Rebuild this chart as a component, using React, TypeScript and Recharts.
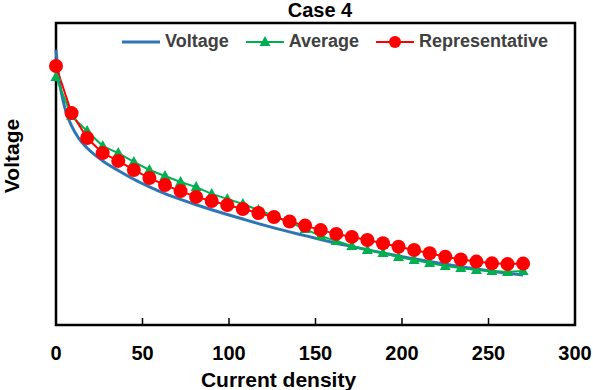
import { LineChart, Line, XAxis, YAxis, Legend, ReferenceArea } from "recharts";

// sampled operating points (current density) for the two marker series
const currentDensity = [
  0, 9, 18, 27, 36, 45, 54, 63, 72, 81, 90, 99, 108, 117, 126, 135,
  144, 153, 162, 171, 180, 189, 198, 207, 216, 225, 234, 243, 252, 261, 270,
];
const averageVoltage = [
  0.985, 0.83, 0.771, 0.711, 0.683, 0.648, 0.616, 0.592, 0.568, 0.548, 0.521,
  0.501, 0.481, 0.457, 0.433, 0.409, 0.381, 0.354, 0.334, 0.314, 0.298, 0.286,
  0.27, 0.258, 0.246, 0.234, 0.226, 0.219, 0.215, 0.211, 0.215,
];
const representativeVoltage = [
  1.029, 0.842, 0.743, 0.683, 0.652, 0.616, 0.584, 0.556, 0.532, 0.509, 0.493,
  0.477, 0.461, 0.445, 0.429, 0.411, 0.395, 0.377, 0.362, 0.35, 0.338, 0.325,
  0.311, 0.298, 0.285, 0.271, 0.26, 0.252, 0.245, 0.242, 0.244,
];

// measured polarization curve, denser near open circuit
const voltageCurrent = [
  0, 1, 2, 4, 6, 9, 13, 18, 27, 36, 45, 54, 63, 72, 81, 90, 99, 108, 117, 126,
  135, 144, 153, 162, 171, 180, 189, 198, 207, 216, 225, 234, 243, 252, 261, 270,
];
const voltageCurve = [
  1.093, 1.021, 0.966, 0.894, 0.842, 0.791, 0.743, 0.703, 0.652, 0.614, 0.579,
  0.549, 0.522, 0.499, 0.478, 0.458, 0.439, 0.421, 0.403, 0.386, 0.37, 0.355,
  0.34, 0.325, 0.312, 0.299, 0.286, 0.274, 0.263, 0.252, 0.242, 0.232, 0.223,
  0.214, 0.206, 0.199,
];

const xTicks = [0, 50, 100, 150, 200, 250, 300];
const legendOrder = ["Voltage", "Average", "Representative"];

const BLUE = "#2e75b6";
const GREEN = "#00b050";
const RED = "#ff0000";
const FONT = "'Liberation Sans', Arial, sans-serif";

const voltageData = voltageCurrent.map((x, i) => ({ x, v: voltageCurve[i] }));
const averageData = currentDensity.map((x, i) => ({ x, v: averageVoltage[i] }));
const representativeData = currentDensity.map((x, i) => ({ x, v: representativeVoltage[i] }));

function TriangleDot(props: any) {
  const { cx, cy } = props;
  if (cx == null || cy == null) return null;
  return (
    <polygon
      points={`${cx},${cy - 6} ${cx - 5.5},${cy + 4} ${cx + 5.5},${cy + 4}`}
      fill={GREEN}
    />
  );
}

function LegendIcon({ name, color }: { name: string; color: string }) {
  return (
    <svg width={38} height={16} style={{ display: "block" }}>
      <line x1={0} y1={8} x2={38} y2={8} stroke={color} strokeWidth={name === "Voltage" ? 3 : 2} />
      {name === "Average" && <polygon points="19,2 13.5,12 24.5,12" fill={color} />}
      {name === "Representative" && <circle cx={19} cy={8} r={6} fill={color} />}
    </svg>
  );
}

function ChartLegend({ payload }: any) {
  // keep the series order of the chart, not alphabetical
  const items = [...(payload || [])].sort(
    (a: any, b: any) => legendOrder.indexOf(a.value) - legendOrder.indexOf(b.value)
  );
  return (
    <div style={{ display: "flex", alignItems: "center", paddingLeft: 122 }}>
      {items.map((entry: any) => (
        <div key={entry.value} style={{ display: "flex", alignItems: "center", marginRight: 17 }}>
          <LegendIcon name={entry.value} color={entry.color} />
          <span
            style={{
              marginLeft: 5,
              fontFamily: FONT,
              fontWeight: "bold",
              fontSize: 18,
              color: "#404040",
            }}
          >
            {entry.value}
          </span>
        </div>
      ))}
    </div>
  );
}

export default function App() {
  return (
    <div style={{ position: "absolute", left: 0, top: 0, width: 593, height: 390, background: "#fff" }}>
      <div
        style={{
          position: "absolute",
          top: 0,
          left: 320,
          transform: "translateX(-50%)",
          fontFamily: FONT,
          fontWeight: "bold",
          fontSize: 20,
          lineHeight: "20px",
          color: "#000",
          whiteSpace: "nowrap",
        }}
      >
        Case 4
      </div>
      <LineChart width={593} height={390} margin={{ top: 23, right: 18, bottom: 0, left: 0 }}>
        <XAxis
          dataKey="x"
          type="number"
          domain={[0, 300]}
          ticks={xTicks}
          axisLine={false}
          tickLine={{ stroke: "#000", strokeWidth: 1.5 }}
          tickSize={-7}
          tickMargin={28}
          height={65}
          tick={{ fill: "#000", fontSize: 20, fontWeight: "bold", fontFamily: FONT }}
          label={{
            value: "Current density",
            position: "insideBottom",
            offset: 3,
            dx: -37,
            fill: "#000",
            fontSize: 21,
            fontWeight: "bold",
            fontFamily: FONT,
          }}
        />
        <YAxis
          type="number"
          domain={[0, 1.2]}
          width={56}
          axisLine={false}
          tickLine={false}
          tick={false}
          label={{
            value: "Voltage",
            angle: -90,
            position: "center",
            dx: -16,
            dy: -18,
            fill: "#000",
            fontSize: 21,
            fontWeight: "bold",
            fontFamily: FONT,
          }}
        />
        <ReferenceArea x1={0} x2={300} y1={0} y2={1.2} fill="none" stroke="#000" strokeWidth={2.5} />
        <Legend
          layout="horizontal"
          verticalAlign="middle"
          align="center"
          wrapperStyle={{ top: 31, left: 0, width: 593 }}
          content={<ChartLegend />}
        />
        <Line
          data={voltageData}
          dataKey="v"
          name="Voltage"
          type="monotone"
          stroke={BLUE}
          strokeWidth={3}
          dot={false}
          isAnimationActive={false}
        />
        <Line
          data={averageData}
          dataKey="v"
          name="Average"
          type="linear"
          stroke={GREEN}
          strokeWidth={2}
          dot={<TriangleDot />}
          isAnimationActive={false}
        />
        <Line
          data={representativeData}
          dataKey="v"
          name="Representative"
          type="linear"
          stroke={RED}
          strokeWidth={2}
          dot={{ r: 7, fill: RED, stroke: RED, strokeWidth: 0 }}
          isAnimationActive={false}
        />
      </LineChart>
    </div>
  );
}
